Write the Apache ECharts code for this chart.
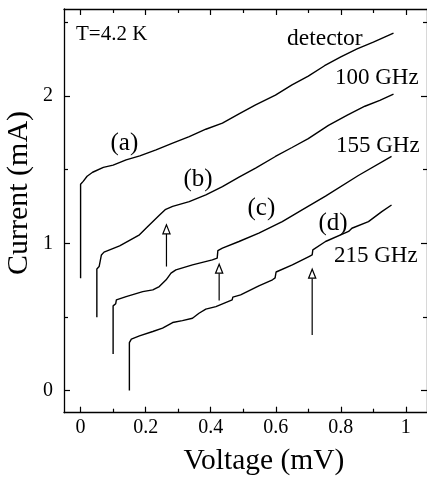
<!DOCTYPE html>
<html>
<head>
<meta charset="utf-8">
<script src="https://cdn.jsdelivr.net/npm/echarts@6/dist/echarts.min.js"></script>
<style>
html,body{margin:0;padding:0;background:#fff;}
#chart{width:427px;height:478px;}
</style>
</head>
<body>
<div id="chart"></div>
<script>
// ---- data (Voltage mV, Current mA) ----
var curveA = [[0,0.763],[0,1.40],[0.008,1.42],[0.02,1.455],[0.037,1.482],[0.07,1.515],[0.1,1.53],[0.14,1.566],[0.182,1.593],[0.232,1.634],[0.283,1.68],[0.334,1.724],[0.385,1.774],[0.436,1.815],[0.487,1.878],[0.538,1.94],[0.599,2.005],[0.65,2.075],[0.70,2.135],[0.75,2.205],[0.80,2.265],[0.85,2.32],[0.90,2.365],[0.962,2.426]];
var curveB = [[0.05,0.498],[0.05,0.826],[0.057,0.842],[0.064,0.921],[0.072,0.94],[0.12,0.982],[0.181,1.057],[0.205,1.11],[0.242,1.19],[0.26,1.228],[0.283,1.25],[0.334,1.283],[0.385,1.329],[0.436,1.385],[0.487,1.449],[0.538,1.51],[0.599,1.589],[0.65,1.65],[0.70,1.71],[0.762,1.8],[0.82,1.87],[0.874,1.93],[0.92,1.97],[0.962,2.012]];
var curveC = [[0.1,0.249],[0.1,0.575],[0.104,0.58],[0.108,0.59],[0.11,0.616],[0.14,0.638],[0.191,0.672],[0.222,0.684],[0.242,0.706],[0.263,0.752],[0.278,0.797],[0.293,0.819],[0.344,0.853],[0.405,0.887],[0.42,0.899],[0.422,0.95],[0.436,0.967],[0.487,1.012],[0.548,1.069],[0.62,1.147],[0.681,1.227],[0.753,1.32],[0.854,1.46],[0.956,1.59]];
var curveD = [[0.15,0],[0.15,0.326],[0.156,0.349],[0.181,0.371],[0.222,0.401],[0.252,0.424],[0.283,0.462],[0.313,0.475],[0.344,0.491],[0.364,0.525],[0.385,0.553],[0.416,0.57],[0.466,0.616],[0.468,0.634],[0.492,0.65],[0.548,0.711],[0.59,0.752],[0.598,0.765],[0.601,0.805],[0.651,0.853],[0.702,0.91],[0.712,0.921],[0.714,0.955],[0.753,1.012],[0.824,1.08],[0.834,1.102],[0.885,1.147],[0.926,1.215],[0.956,1.26]];
// arrows: [voltage, tip current, tail current]
var arrows = [[0.264,1.125,0.842],[0.426,0.858,0.611],[0.712,0.824,0.378]];
// ticks
var xMajor = [0,0.2,0.4,0.6,0.8,1];
var xMinor = [0.1,0.3,0.5,0.7,0.9];
var yMajor = [0,1,2];
var yMinor = [0.5,1.5,2.5];

var FONT = '"Liberation Serif", "Times New Roman", serif';
var chart = echarts.init(document.getElementById('chart'), null, {renderer:'canvas'});

function xAx(pos, vals, len, line, labels) {
  return {
    type:'value', position:pos, min:-0.051, max:1.065,
    axisLine:{show:line, onZero:false, lineStyle:{color:'#000', width:1.3}},
    axisTick:{show:true, inside:true, length:len, customValues:vals, lineStyle:{color:'#000', width:1.2}},
    axisLabel:{show:labels, customValues:vals, margin:5, color:'#000', fontFamily:FONT, fontSize:20},
    splitLine:{show:false}
  };
}
function yAx(pos, vals, len, line, labels) {
  return {
    type:'value', position:pos, min:-0.15, max:2.59,
    axisLine:{show:line, onZero:false, lineStyle:{color:'#000', width:1.3}},
    axisTick:{show:true, inside:true, length:len, customValues:vals, lineStyle:{color:'#000', width:1.2}},
    axisLabel:{show:labels, customValues:vals, margin:11, color:'#000', fontFamily:FONT, fontSize:20},
    splitLine:{show:false}
  };
}
function lineSeries(d) {
  return {type:'line', data:d, showSymbol:false, symbol:'none', xAxisIndex:0, yAxisIndex:0,
    lineStyle:{color:'#000', width:1.4}, animation:false, silent:true};
}
function txt(text, x, y, size) {
  return {type:'text', x:x, y:y, style:{text:text, x:0, y:0, font:size+'px '+FONT, fill:'#000', textAlign:'left', textVerticalAlign:'middle'}};
}

var option = {
  backgroundColor:'#fff',
  animation:false,
  grid:{left:64, right:-2, top:9, bottom:65.3},
  xAxis:[xAx('bottom', xMajor, 6, true, true), xAx('bottom', xMinor, 4, false, false), xAx('top', xMajor, 6, true, false), xAx('top', xMinor, 4, false, false)],
  yAxis:[yAx('left', yMajor, 6, true, true), yAx('left', yMinor, 4, false, false), yAx('right', yMajor, 6, true, false), yAx('right', yMinor, 4, false, false)],
  series:[
    lineSeries(curveA), lineSeries(curveB), lineSeries(curveC), lineSeries(curveD),
    {
      type:'custom', xAxisIndex:0, yAxisIndex:0, data:arrows, silent:true, animation:false,
      renderItem:function(params, api){
        var tip = api.coord([api.value(0), api.value(1)]);
        var tail = api.coord([api.value(0), api.value(2)]);
        var h = 9, w = 3.6;
        return {type:'group', children:[
          {type:'line', shape:{x1:tip[0], y1:tip[1]+h, x2:tail[0], y2:tail[1]}, style:{stroke:'#000', lineWidth:1.2}},
          {type:'polygon', shape:{points:[[tip[0],tip[1]],[tip[0]-w,tip[1]+h],[tip[0]+w,tip[1]+h]]}, style:{fill:'#fff', stroke:'#000', lineWidth:1.2}}
        ]};
      }
    }
  ],
  graphic:[
    txt('T=4.2 K', 76, 34, 21),
    txt('detector', 287, 39, 23.5),
    txt('100 GHz', 335, 78, 23),
    txt('155 GHz', 336, 145.5, 23),
    txt('215 GHz', 334, 256, 23),
    txt('(a)', 110.5, 143, 25),
    txt('(b)', 183.5, 179, 25),
    txt('(c)', 247.5, 208, 25),
    txt('(d)', 318.5, 223, 25),
    {type:'text', x:264, y:461, style:{text:'Voltage (mV)', x:0, y:0, font:'29.5px '+FONT, fill:'#000', textAlign:'center', textVerticalAlign:'middle'}},
    {type:'text', x:19, y:193, rotation:Math.PI/2, style:{text:'Current (mA)', x:0, y:0, font:'30px '+FONT, fill:'#000', textAlign:'center', textVerticalAlign:'middle'}}
  ]
};
chart.setOption(option);
</script>
</body>
</html>
